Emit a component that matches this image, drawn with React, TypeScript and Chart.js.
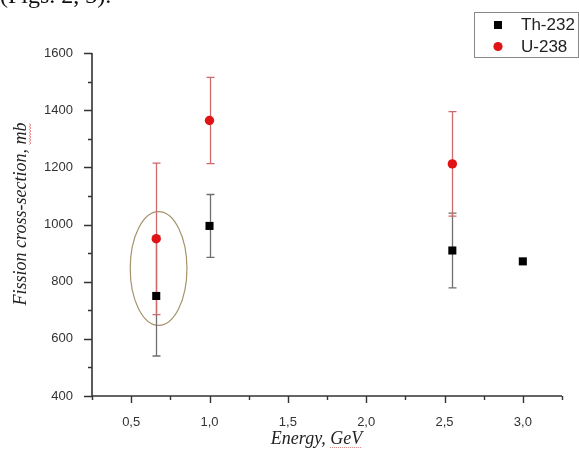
import React, { useEffect, useRef } from "react";
import { Chart, registerables } from "chart.js";

Chart.register(...registerables);

// ---- data ----
const seriesNames = ["Th-232", "U-238"];
const energyTh = [0.66, 1.0, 2.55, 3.0];
const sigmaTh = [750, 995, 909, 871];
const errTh = [210, 110, 131, 0];
const energyU = [0.66, 1.0, 2.55];
const sigmaU = [950, 1364, 1212];
const errU = [265, 151, 183];
const xTicks = [0.5, 1.0, 1.5, 2.0, 2.5, 3.0];
const xTickLabels = ["0,5", "1,0", "1,5", "2,0", "2,5", "3,0"];
const yTicks = [400, 600, 800, 1000, 1200, 1400, 1600];
const xTitle = "Energy, ";
const xTitleUnit = "GeV";
const yTitle = "Fission cross-section, ";
const yTitleUnit = "mb";
const topText = "(Figs. 2, 3).";
// highlighted group (data coords): center energy, center sigma, half-width, half-height
const ellipseData = [0.675, 846, 0.181, 199];

const TH_COLOR = "#000000";
const U_COLOR = "#e01414";
const TH_BAR = "#6f6f6f";
const U_BAR = "#cd6a6a";

const customPlugin = {
  id: "custom",
  beforeDatasetsDraw(chart: any) {
    const { ctx, scales } = chart;
    const x = scales.x;
    const y = scales.y;
    ctx.save();
    // ellipse
    const cx = x.getPixelForValue(ellipseData[0]);
    const cy = y.getPixelForValue(ellipseData[1]);
    const rx = Math.abs(x.getPixelForValue(ellipseData[0] + ellipseData[2]) - cx);
    const ry = Math.abs(y.getPixelForValue(ellipseData[1] + ellipseData[3]) - cy);
    ctx.strokeStyle = "#a3946b";
    ctx.lineWidth = 1.2;
    ctx.beginPath();
    ctx.ellipse(cx, cy, rx, ry, 0, 0, Math.PI * 2);
    ctx.stroke();

    const drawBars = (xs: number[], ys: number[], es: number[], color: string) => {
      ctx.strokeStyle = color;
      ctx.lineWidth = 1.3;
      xs.forEach((xv, i) => {
        const e = es[i];
        if (!e) return;
        const px = Math.round(x.getPixelForValue(xv)) + 0.5;
        const p1 = y.getPixelForValue(ys[i] + e);
        const p2 = y.getPixelForValue(ys[i] - e);
        ctx.beginPath();
        ctx.moveTo(px, p1);
        ctx.lineTo(px, p2);
        ctx.moveTo(px - 4, p1);
        ctx.lineTo(px + 4, p1);
        ctx.moveTo(px - 4, p2);
        ctx.lineTo(px + 4, p2);
        ctx.stroke();
      });
    };
    drawBars(energyTh, sigmaTh, errTh, TH_BAR);
    drawBars(energyU, sigmaU, errU, U_BAR);
    ctx.restore();
  },
  afterDraw(chart: any) {
    const { ctx, scales, chartArea } = chart;
    const x = scales.x;
    const y = scales.y;
    const { left, right, top, bottom } = chartArea;
    ctx.save();
    // axes
    ctx.strokeStyle = "#333";
    ctx.lineWidth = 1.6;
    ctx.beginPath();
    ctx.moveTo(left, top);
    ctx.lineTo(left, bottom);
    ctx.lineTo(right, bottom);
    ctx.stroke();
    ctx.lineWidth = 1.4;
    ctx.beginPath();
    for (let v = y.min; v <= y.max + 1e-6; v += 100) {
      const py = Math.round(y.getPixelForValue(v)) + 0.5;
      const len = v % 200 === 0 ? 8 : 4;
      ctx.moveTo(left - len, py);
      ctx.lineTo(left, py);
    }
    for (let i = 0; i <= 12; i++) {
      const v = x.min + i * 0.25;
      const px = Math.round(x.getPixelForValue(v)) + 0.5;
      const len = i % 2 === 1 ? 7 : 4;
      ctx.moveTo(px, bottom);
      ctx.lineTo(px, bottom + len);
    }
    ctx.stroke();

    // y title
    ctx.fillStyle = "#222";
    ctx.font = "italic 18px 'Liberation Serif'";
    ctx.textBaseline = "alphabetic";
    ctx.textAlign = "left";
    ctx.save();
    ctx.translate(26, 214);
    ctx.rotate(-Math.PI / 2);
    const w1 = ctx.measureText(yTitle).width;
    const w2 = ctx.measureText(yTitleUnit).width;
    const W = w1 + w2;
    ctx.fillText(yTitle, -W / 2, 0);
    ctx.fillText(yTitleUnit, -W / 2 + w1, 0);
    // wavy underline
    ctx.strokeStyle = "#e06060";
    ctx.lineWidth = 0.9;
    ctx.beginPath();
    const sx = -W / 2 + w1;
    for (let k = 0; k <= w2; k += 1.5) {
      const yy = 3.5 + (Math.round(k / 1.5) % 2 === 0 ? 0 : 1.2);
      if (k === 0) ctx.moveTo(sx + k, yy);
      else ctx.lineTo(sx + k, yy);
    }
    ctx.stroke();
    ctx.restore();

    // x title
    const xw1 = ctx.measureText(xTitle).width;
    const xw2 = ctx.measureText(xTitleUnit).width;
    const xs = 316.5 - (xw1 + xw2) / 2;
    ctx.fillStyle = "#222";
    ctx.fillText(xTitle, xs, 444);
    ctx.fillText(xTitleUnit, xs + xw1, 444);
    ctx.strokeStyle = "#d98080";
    ctx.lineWidth = 1;
    ctx.setLineDash([1, 1]);
    ctx.beginPath();
    ctx.moveTo(xs + xw1, 447.5);
    ctx.lineTo(xs + xw1 + xw2, 447.5);
    ctx.stroke();
    ctx.setLineDash([]);

    // top text (cut off)
    ctx.fillStyle = "#111";
    ctx.font = "24px 'Liberation Serif'";
    ctx.fillText(topText, 0, 3);

    // legend
    ctx.strokeStyle = "#888";
    ctx.lineWidth = 1;
    ctx.strokeRect(474.5, 12.5, 104, 45);
    ctx.fillStyle = TH_COLOR;
    ctx.fillRect(494, 21, 8, 8);
    ctx.fillStyle = U_COLOR;
    ctx.beginPath();
    ctx.arc(498, 46.5, 4.6, 0, Math.PI * 2);
    ctx.fill();
    ctx.fillStyle = "#222";
    ctx.font = "17px 'Liberation Sans'";
    ctx.textBaseline = "middle";
    ctx.fillText(seriesNames[0], 521, 25.5);
    ctx.fillText(seriesNames[1], 521, 47);
    ctx.restore();
  },
};

export default function App() {
  const ref = useRef<HTMLCanvasElement | null>(null);
  useEffect(() => {
    if (!ref.current) return;
    const chart = new Chart(ref.current, {
      type: "scatter",
      data: {
        datasets: [
          {
            label: seriesNames[0],
            data: energyTh.map((e, i) => ({ x: e, y: sigmaTh[i] })),
            pointStyle: "rect",
            pointRadius: 5.7,
            pointHoverRadius: 5.7,
            backgroundColor: TH_COLOR,
            borderWidth: 0,
          },
          {
            label: seriesNames[1],
            data: energyU.map((e, i) => ({ x: e, y: sigmaU[i] })),
            pointStyle: "circle",
            pointRadius: 4.7,
            pointHoverRadius: 4.7,
            backgroundColor: U_COLOR,
            borderWidth: 0,
          },
        ],
      },
      options: {
        animation: false,
        responsive: false,
        devicePixelRatio: 1,
        layout: { padding: { top: 53, right: 17, left: 0, bottom: 0 } },
        plugins: { legend: { display: false }, tooltip: { enabled: false } },
        scales: {
          x: {
            type: "linear",
            min: 0.25,
            max: 3.25,
            afterBuildTicks: (s: any) => {
              s.ticks = xTicks.map((v) => ({ value: v }));
            },
            afterFit: (s: any) => {
              s.height = 54;
            },
            ticks: {
              callback: (_v: any, i: number) => xTickLabels[i],
              font: { family: "'Liberation Sans'", size: 13 },
              color: "#333",
              padding: 11,
              maxRotation: 0,
              autoSkip: false,
            },
            grid: { display: false },
            border: { display: false },
          },
          y: {
            type: "linear",
            min: 400,
            max: 1600,
            afterBuildTicks: (s: any) => {
              s.ticks = yTicks.map((v) => ({ value: v }));
            },
            afterFit: (s: any) => {
              s.width = 92;
            },
            ticks: {
              callback: (v: any) => String(v),
              font: { family: "'Liberation Sans'", size: 13 },
              color: "#333",
              padding: 11,
              autoSkip: false,
            },
            grid: { display: false },
            border: { display: false },
          },
        },
      },
      plugins: [customPlugin],
    });
    return () => chart.destroy();
  }, []);
  return (
    <div style={{ position: "fixed", left: 0, top: 0, width: 579, height: 450, background: "#fff" }}>
      <canvas ref={ref} width={579} height={450} style={{ width: 579, height: 450, display: "block" }} />
    </div>
  );
}
